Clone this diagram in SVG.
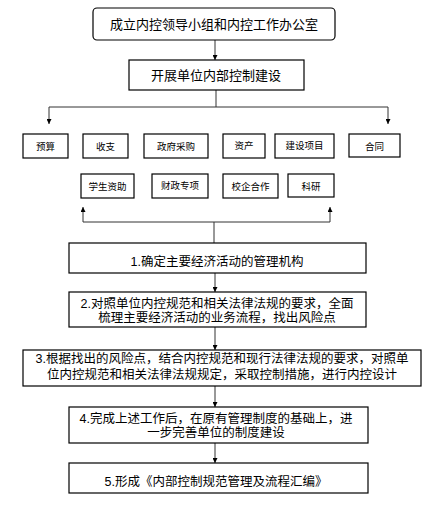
<svg xmlns="http://www.w3.org/2000/svg" width="443" height="511" viewBox="0 0 443 511">
<defs>
<marker id="ah" viewBox="0 0 10 10" refX="10" refY="5" markerWidth="5" markerHeight="5" orient="auto" markerUnits="userSpaceOnUse">
<path d="M0,0 L10,5 L0,10 Z" fill="#000"/>
</marker>
</defs>
<style>
.box{fill:#fff;stroke:#000;stroke-width:1.2}
.t{font-family:"Liberation Sans","Noto Sans CJK SC",sans-serif;fill:#000;text-anchor:middle}
.big{font-size:13px}
.mid{font-size:12.5px}
.sm{font-size:9.5px}
.c{fill:none;stroke:#333;stroke-width:1}
</style>
<rect width="443" height="511" fill="#fff"/>
<g id="connectors">
<line class="c" x1="215" y1="40" x2="215" y2="60" marker-end="url(#ah)"/>
<polyline class="c" points="216,90 216,107"/>
<line class="c" x1="49" y1="107" x2="388" y2="107"/>
<line class="c" x1="49" y1="107" x2="49" y2="124" marker-end="url(#ah)"/>
<line class="c" x1="388" y1="107" x2="388" y2="124" marker-end="url(#ah)"/>
<line class="c" x1="214" y1="243" x2="214" y2="222"/>
<line class="c" x1="83" y1="222" x2="330" y2="222"/>
<line class="c" x1="83" y1="222" x2="83" y2="207" marker-end="url(#ah)"/>
<line class="c" x1="330" y1="222" x2="330" y2="207" marker-end="url(#ah)"/>
<line class="c" x1="215" y1="273" x2="215" y2="292" marker-end="url(#ah)"/>
<line class="c" x1="215" y1="327" x2="215" y2="350" marker-end="url(#ah)"/>
<line class="c" x1="215" y1="386" x2="215" y2="407" marker-end="url(#ah)"/>
<line class="c" x1="215" y1="443" x2="215" y2="463" marker-end="url(#ah)"/>
</g>
<g id="n-top"><rect class="box" x="93" y="8" width="242" height="32" rx="4"/><text class="t big" x="214" y="29">成立内控领导小组和内控工作办公室</text></g>
<g id="n-build"><rect class="box" x="129" y="60" width="175" height="30"/><text class="t big" x="216" y="80">开展单位内部控制建设</text></g>
<g id="n-yusuan"><rect class="box" x="23" y="134" width="45" height="24"/><text class="t sm" x="45.5" y="150">预算</text></g>
<g id="n-shouzhi"><rect class="box" x="83" y="134" width="45" height="24"/><text class="t sm" x="105.5" y="150">收支</text></g>
<g id="n-caigou"><rect class="box" x="144" y="134" width="64" height="24"/><text class="t sm" x="176" y="150">政府采购</text></g>
<g id="n-zichan"><rect class="box" x="223" y="134" width="42" height="24"/><text class="t sm" x="244" y="149">资产</text></g>
<g id="n-jianshe"><rect class="box" x="275" y="134" width="59" height="24"/><text class="t sm" x="304.5" y="149">建设项目</text></g>
<g id="n-hetong"><rect class="box" x="349" y="134" width="51" height="23"/><text class="t sm" x="374.5" y="150">合同</text></g>
<g id="n-xuesheng"><rect class="box" x="81" y="174" width="53" height="24"/><text class="t sm" x="107.5" y="190">学生资助</text></g>
<g id="n-caizheng"><rect class="box" x="152" y="174" width="56" height="24"/><text class="t sm" x="180" y="189">财政专项</text></g>
<g id="n-xiaoqi"><rect class="box" x="223" y="174" width="55" height="24"/><text class="t sm" x="250.5" y="190">校企合作</text></g>
<g id="n-keyan"><rect class="box" x="288" y="174" width="46" height="23"/><text class="t sm" x="311" y="190">科研</text></g>
<g id="n-step1"><rect class="box" x="69" y="243" width="297" height="30"/><text class="t mid" x="217" y="266">1.确定主要经济活动的管理机构</text></g>
<g id="n-step2"><rect class="box" x="69" y="292" width="297" height="35"/><text class="t mid" x="217" y="308">2.对照单位内控规范和相关法律法规的要求，全面</text><text class="t mid" x="217" y="322">梳理主要经济活动的业务流程，找出风险点</text></g>
<g id="n-step3"><rect class="box" x="23" y="350" width="398" height="36"/><text class="t mid" x="222" y="363">3.根据找出的风险点，结合内控规范和现行法律法规的要求，对照单</text><text class="t mid" x="222" y="379">位内控规范和相关法律法规规定，采取控制措施，进行内控设计</text></g>
<g id="n-step4"><rect class="box" x="69" y="407" width="299" height="36"/><text class="t mid" x="216" y="423">4.完成上述工作后，在原有管理制度的基础上，进</text><text class="t mid" x="216" y="437">一步完善单位的制度建设</text></g>
<g id="n-step5"><rect class="box" x="69" y="463" width="299" height="30"/><text class="t mid" x="216" y="486">5.形成《内部控制规范管理及流程汇编》</text></g>
</svg>
